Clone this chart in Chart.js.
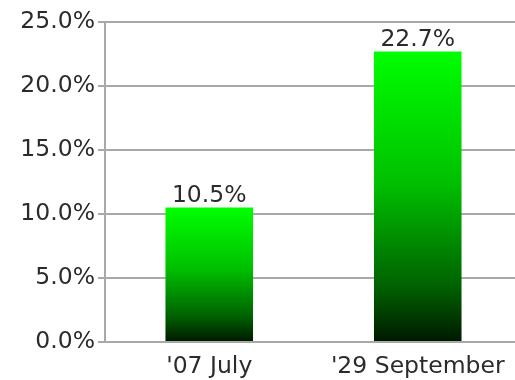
<!DOCTYPE html>
<html>
<head>
<meta charset="utf-8">
<script src="https://cdn.jsdelivr.net/npm/chart.js@4/dist/chart.umd.min.js"></script>
<style>
  html, body { margin: 0; padding: 0; background: #fff; overflow: hidden; }
  #wrap { width: 522px; height: 380px; }
</style>
</head>
<body>
<div id="wrap"><canvas id="myChart"></canvas></div>
<script>
// categories and values (percent)
const categories = ["'07 July", "'29 September"];
const shares = [10.5, 22.7];
const yTicks = [0, 5, 10, 15, 20, 25];

const FONT = { family: "'DejaVu Sans', sans-serif", size: 23.5 };
const TEXT_COLOR = '#2b2b2b';
const GRID_COLOR = '#a9a9a9';

// vertical green gradient, bright at the top of each bar, dark at its base
function barGradient(ctx) {
  const chart = ctx.chart;
  const y = chart.scales.y;
  if (!y || !chart.chartArea) return '#0a0';
  const top = y.getPixelForValue(ctx.raw);
  const base = y.getPixelForValue(0);
  const g = chart.ctx.createLinearGradient(0, top, 0, base);
  g.addColorStop(0, '#00ff00');
  g.addColorStop(0.45, '#00c000');
  g.addColorStop(0.8, '#006400');
  g.addColorStop(1, '#001800');
  return g;
}

// value labels above the bars
const valueLabels = {
  id: 'valueLabels',
  afterDatasetsDraw(chart) {
    const c = chart.ctx;
    const meta = chart.getDatasetMeta(0);
    c.save();
    c.font = FONT.size + 'px ' + FONT.family;
    c.fillStyle = TEXT_COLOR;
    c.textAlign = 'center';
    c.textBaseline = 'bottom';
    meta.data.forEach((bar, i) => {
      c.fillText(shares[i].toFixed(1) + '%', bar.x, bar.y);
    });
    c.restore();
  }
};

new Chart(document.getElementById('myChart'), {
  type: 'bar',
  data: {
    labels: categories,
    datasets: [{
      data: shares,
      backgroundColor: barGradient,
      borderWidth: 0,
      categoryPercentage: 0.84,
      barPercentage: 0.5
    }]
  },
  options: {
    responsive: true,
    maintainAspectRatio: false,
    animation: false,
    layout: { padding: { top: 22, right: 0, left: 0, bottom: 0 } },
    plugins: { legend: { display: false }, tooltip: { enabled: false } },
    scales: {
      x: {
        grid: { display: false },
        border: { display: false },
        ticks: { color: TEXT_COLOR, font: FONT, padding: 3 },
        afterFit(scale) { scale.height = 38; }
      },
      y: {
        min: 0,
        max: 25,
        afterBuildTicks(scale) { scale.ticks = yTicks.map(v => ({ value: v })); },
        grid: { color: GRID_COLOR, lineWidth: 2, tickLength: 7, drawTicks: true },
        border: { display: true, color: GRID_COLOR, width: 2 },
        ticks: {
          color: TEXT_COLOR,
          font: FONT,
          padding: 3,
          callback: v => v.toFixed(1) + '%'
        },
        afterFit(scale) { scale.width = 105; }
      }
    }
  },
  plugins: [valueLabels]
});
</script>
</body>
</html>
